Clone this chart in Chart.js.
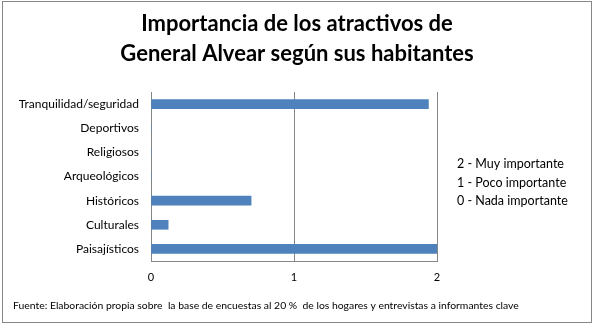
<!DOCTYPE html>
<html>
<head>
<meta charset="utf-8">
<script src="https://cdn.jsdelivr.net/npm/chart.js@4"></script>
<style>
  body { margin: 0; background: #fff; }
  #wrap { position: relative; width: 594px; height: 325px; }
</style>
</head>
<body>
<div id="wrap"><canvas id="myChart" width="594" height="325"></canvas></div>
<script>
const categories = ['Tranquilidad/seguridad', 'Deportivos', 'Religiosos', 'Arqueológicos', 'Históricos', 'Culturales', 'Paisajísticos'];
const values = [1.94, 0, 0, 0, 0.7, 0.12, 2.0];
const xTicks = [0, 1, 2];
const titleLines = ['Importancia de los atractivos de', 'General Alvear según sus habitantes'];
const scaleNotes = ['2 - Muy importante', '1 - Poco importante', '0 - Nada importante'];
const sourceNote = 'Fuente: Elaboración propia sobre  la base de encuestas al 20 %  de los hogares y entrevistas a informantes clave';

const fontName = 'Lato, "Liberation Sans", sans-serif';

// border, title (centred on the whole box), side notes and source line
const extras = {
    id: 'extras',
    beforeDraw(chart) {
        const c = chart.ctx;
        c.save();
        c.fillStyle = '#fff';
        c.fillRect(0, 0, chart.width, chart.height);
        c.strokeStyle = '#868686';
        c.lineWidth = 1;
        c.strokeRect(2.5, 1.5, 589, 321);
        c.restore();
    },
    afterDraw(chart) {
        const c = chart.ctx;
        c.save();
        c.fillStyle = '#000';
        c.textBaseline = 'middle';
        c.textAlign = 'center';
        c.font = 'bold 22px ' + fontName;
        titleLines.forEach((t, i) => c.fillText(t, 297, 24 + i * 30));
        c.textAlign = 'left';
        c.font = '12.5px ' + fontName;
        scaleNotes.forEach((t, i) => c.fillText(t, 457, 164 + i * 18.5));
        c.font = '10.4px ' + fontName;
        c.fillText(sourceNote, 13, 306);
        c.restore();
    }
};

const ctx = document.getElementById('myChart').getContext('2d');
const myChart = new Chart(ctx, {
    type: 'bar',
    data: {
        labels: categories,
        datasets: [{
            data: values,
            backgroundColor: '#4F81BD',
            barThickness: 9
        }]
    },
    options: {
        indexAxis: 'y',
        responsive: false,
        animation: false,
        layout: { padding: { top: 92, left: 0, right: 157, bottom: 34 } },
        plugins: {
            legend: { display: false },
            tooltip: { enabled: false },
            title: { display: false }
        },
        scales: {
            x: {
                min: 0,
                max: 2,
                afterBuildTicks(scale) { scale.ticks = xTicks.map(v => ({ value: v })); },
                afterFit(scale) { scale.height = 30; },
                grid: { color: '#868686', drawTicks: false },
                border: { color: '#868686' },
                ticks: { color: '#000', padding: 10, font: { family: fontName, size: 11 } }
            },
            y: {
                afterFit(scale) { scale.width = 151; },
                grid: { display: false, drawTicks: false },
                border: { color: '#868686' },
                ticks: { color: '#000', padding: 12, font: { family: fontName, size: 12 } }
            }
        }
    },
    plugins: [extras]
});
</script>
</body>
</html>
